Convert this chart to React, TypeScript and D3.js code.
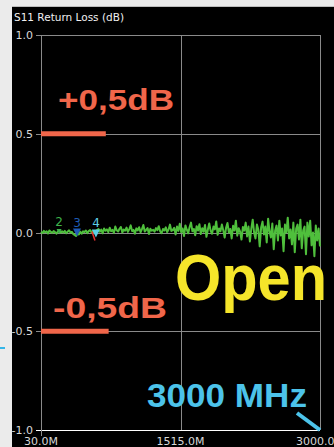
import React from "react";
import * as d3 from "d3";

const title = "S11 Return Loss (dB)";
const yTicks = [1.0, 0.5, 0.0, -0.5, -1.0];
const xTicks = [30, 1515, 3000];
const xTickLabels = ["30.0M", "1515.0M", "3000.0M"];
const startMHz = 30;
const stopMHz = 3000;

// S11 trace values in dB
const traceA = [0.004,-0.003,0.008,0.001,0.006,-0.005,0.01,0.003,-0.002,0.007,0.002,-0.006,0.005,0.009,-0.001,0.006,0.0,0.008,-0.004,0.004,0.011,0.0,0.003,-0.008,-0.012,-0.018,-0.004,-0.01,0.004,-0.006,0.006,0.002,0.01,-0.003,0.007,0.012,0.001,0.008,-0.002,0.006];
const traceB = [0.012,0.018,0.004,0.015,-0.004,0.02,0.009,0.016,0.002,0.024,0.007,0.013,-0.002,0.03,0.011,0.005,0.019,0.028,0.0,0.015,0.009,0.025,0.003,0.017,0.036,0.007,0.013,-0.006,0.021,0.011,0.027,0.001,0.017,0.038,0.005,0.013,0.023,-0.008,0.019,0.009,0.014,0.004,0.022,0.012,0.032,0.006,-0.004,0.018,0.01,0.026,0.002,0.015,0.04,0.008,0.012];
const traceC = [0.024,-0.01,0.03,0.008,0.044,0.002,0.02,-0.018,0.036,0.014,-0.004,0.028,0.05,0.006,0.018,-0.014,0.032,0.01,0.042,-0.008,0.022,0.004,0.038,-0.022,0.014,0.046,0.008,-0.006,0.03,0.016,0.056,-0.012,0.02,0.006,0.04,0.012,-0.026,0.024,0.048,0.0,0.018,-0.03,0.034,0.01,0.06,-0.016,0.022,0.004,-0.036,0.028];
const traceD = [0.01,0.05,-0.02,0.03,-0.045,0.02,0.065,0.0,-0.03,0.04,0.015,-0.07,0.025,0.055,-0.01,0.03,-0.05,0.07,0.005,-0.025,0.045,-0.085,0.01,0.035,-0.04,0.06,-0.015,0.02,-0.095,0.04,0.0,0.075,-0.03,0.015,-0.06,0.05,-0.1,0.02,0.04,-0.035,0.065,-0.08,0.01,0.03,-0.11,0.05,-0.02,0.06,-0.065,0.0,-0.12,0.035,-0.04,0.02,-0.07];

const markers = [
  { id: "2", freq: 222, value: 0.005, color: "#3db34a", size: 5 },
  { id: "3", freq: 413, value: 0.0, color: "#1e5bb5", size: 8 },
  { id: "4", freq: 615, value: -0.005, color: "#5ccfe6", size: 8 },
];

const limitLines = [
  { value: 0.5, endMHz: 720, label: "+0,5dB" },
  { value: -0.5, endMHz: 750, label: "-0,5dB" },
];

export default function App() {
  const W = 334, H = 447;
  const x = d3.scaleLinear().domain([startMHz, stopMHz]).range([41, 320]);
  const y = d3.scaleLinear().domain([-1, 1]).range([430, 35]);
  const values = [...traceA, ...traceB, ...traceC, ...traceD];
  const n = values.length;
  const pts = values.map((v, i) => [startMHz + (i * (stopMHz - startMHz)) / (n - 1), v] as [number, number]);
  const line = d3.line<[number, number]>().x(d => x(d[0])).y(d => y(d[1]));
  const tickFont = "DejaVu Sans, sans-serif";
  const bold = "Liberation Sans, Arial, sans-serif";
  return (
    <svg width={W} height={H} style={{ position: "absolute", left: 0, top: 0 }}>
      <rect x={0} y={0} width={W} height={H} fill="#ebebeb" />
      <rect x={12} y={6} width={W - 12} height={H - 6} fill="#000" />
      <line x1={12} x2={W} y1={6.5} y2={6.5} stroke="#bdbdbd" />
      <line x1={0} x2={5} y1={348} y2={348} stroke="#35b6e8" strokeWidth={2} />
      <text x={14} y={21} fill="#f0f0f0" fontFamily={tickFont} fontSize={10.5}>{title}</text>
      {/* grid */}
      {yTicks.filter(t => t !== -1).map(t => (
        <line key={"h" + t} x1={36} x2={320} y1={Math.round(y(t)) + 0.5} y2={Math.round(y(t)) + 0.5} stroke="#8a8a8a" />
      ))}
      <line x1={36} x2={320} y1={Math.round(y(-1)) + 0.5} y2={Math.round(y(-1)) + 0.5} stroke="#ffffff" />
      {xTicks.map(t => (
        <line key={"v" + t} x1={Math.round(x(t)) + 0.5} x2={Math.round(x(t)) + 0.5} y1={y(1)} y2={t === 30 ? 436 : y(-1)} stroke="#8a8a8a" />
      ))}
      {yTicks.map(t => (
        <text key={"yl" + t} x={33} y={y(t) + 4} textAnchor="end" fill="#d8d8d8" fontFamily={tickFont} fontSize={11}>{t.toFixed(1)}</text>
      ))}
      {xTicks.map((t, i) => (
        <text key={"xl" + t} x={x(t)} y={445} textAnchor="middle" fill="#d8d8d8" fontFamily={tickFont} fontSize={11}>{xTickLabels[i]}</text>
      ))}
      {/* limit lines */}
      {limitLines.map(l => (
        <rect key={l.label} x={x(startMHz)} y={y(l.value) - 2.5} width={x(l.endMHz) - x(startMHz)} height={5} fill="#f0664a" />
      ))}
      <text x={58} y={110} fill="#f0664a" fontFamily={bold} fontWeight="bold" fontSize={30} textLength={116} lengthAdjust="spacingAndGlyphs">{limitLines[0].label}</text>
      <text x={53} y={318} fill="#f0664a" fontFamily={bold} fontWeight="bold" fontSize={30} textLength={114} lengthAdjust="spacingAndGlyphs">{limitLines[1].label}</text>
      {/* trace */}
      <path d={line(pts) || ""} fill="none" stroke="#4fbf3c" strokeWidth={2} strokeLinejoin="round" />
      {/* markers */}
      {markers.map(m => {
        const cx = x(m.freq), cy = y(m.value);
        const s = m.size;
        return (
          <g key={m.id}>
            <path d={`M${cx - s / 2},${cy - s / 2} L${cx + s / 2},${cy - s / 2} L${cx},${cy + s / 2} Z`} fill={m.color} />
            <text x={cx} y={cy - 6} textAnchor="middle" fill={m.color} fontFamily={tickFont} fontSize={12}>{m.id}</text>
          </g>
        );
      })}
      <line x1={x(markers[2].freq) - 4} y1={y(0) - 1} x2={x(markers[2].freq) - 1} y2={y(0) + 8} stroke="#e53030" strokeWidth={1.5} />
      <text x={175} y={300} fill="#f5e52a" fontFamily={bold} fontWeight="bold" fontSize={64} textLength={152} lengthAdjust="spacingAndGlyphs">Open</text>
      <text x={147} y={407} fill="#4cc3ea" fontFamily={bold} fontWeight="bold" fontSize={33} textLength={160} lengthAdjust="spacingAndGlyphs">3000 MHz</text>
      <line x1={297} y1={413} x2={320} y2={430} stroke="#4cc3ea" strokeWidth={4} />
    </svg>
  );
}
